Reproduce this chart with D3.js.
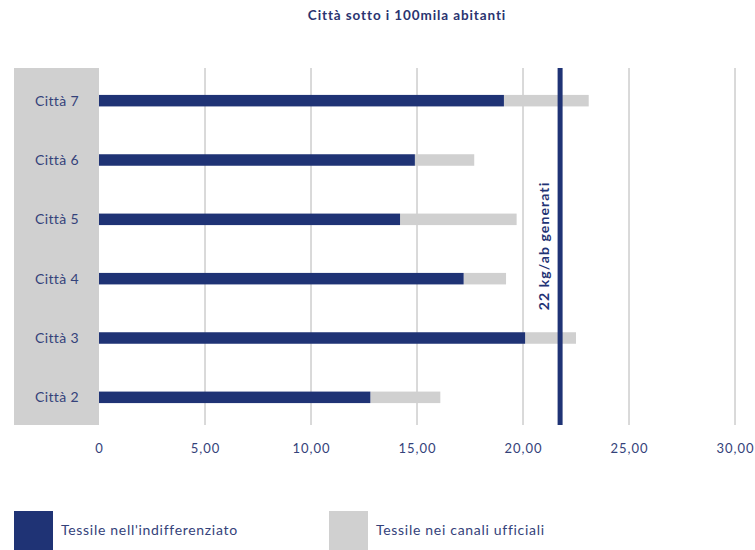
<!DOCTYPE html>
<html>
<head>
<meta charset="utf-8">
<script src="https://cdn.jsdelivr.net/npm/d3@7"></script>
<style>
  body { margin: 0; background: #fff; }
  svg text { font-family: Lato, "Open Sans", sans-serif; }
</style>
</head>
<body>
<div id="chart"></div>
<script>
// dati (kg/ab)
const cities = ["Città 7", "Città 6", "Città 5", "Città 4", "Città 3", "Città 2"];
const indifferenziato = [19.1, 14.9, 14.2, 17.2, 20.1, 12.8];
const canaliUfficiali = [4.0, 2.8, 5.5, 2.0, 2.4, 3.3];
const xTicks = [0, 5, 10, 15, 20, 25, 30];
const refValue = 21.75;
const refLabel = "22 kg/ab generati";
const legendLabels = ["Tessile nell'indifferenziato", "Tessile nei canali ufficiali"];

const navy = "#1f3375";
const textColor = "#34427a";
const lightGray = "#d0d0d0";

const width = 755, height = 550;
const plotTop = 68, plotBottom = 425;

const svg = d3.select("#chart").append("svg")
  .attr("width", width)
  .attr("height", height);

const x = d3.scaleLinear().domain([0, 30]).range([99, 735]);
const y = d3.scaleBand().domain(cities).range([71, 427]);
const barH = 11.5;

// titolo
svg.append("text")
  .attr("x", 407).attr("y", 20)
  .attr("text-anchor", "middle")
  .attr("font-size", 13.5).attr("font-weight", "bold")
  .attr("letter-spacing", 0.9)
  .attr("fill", "#2a3470")
  .text("Città sotto i 100mila abitanti");

// fascia grigia delle categorie
svg.append("rect")
  .attr("x", 14).attr("y", plotTop)
  .attr("width", x(0) - 14).attr("height", plotBottom - plotTop)
  .attr("fill", lightGray);

// griglia verticale
svg.selectAll("line.grid")
  .data(xTicks.filter(d => d > 0))
  .enter().append("line")
  .attr("class", "grid")
  .attr("x1", d => x(d)).attr("x2", d => x(d))
  .attr("y1", plotTop).attr("y2", plotBottom)
  .attr("stroke", "#b4b4b4").attr("stroke-width", 1);

// etichette categorie
svg.selectAll("text.cat")
  .data(cities)
  .enter().append("text")
  .attr("class", "cat")
  .attr("x", 57)
  .attr("y", d => y(d) + y.bandwidth() / 2)
  .attr("dy", "0.35em")
  .attr("text-anchor", "middle")
  .attr("font-size", 14)
  .attr("letter-spacing", 0.4)
  .attr("fill", textColor)
  .text(d => d);

// barre grigie (canali ufficiali), impilate dopo l'indifferenziato
svg.selectAll("rect.gray")
  .data(cities)
  .enter().append("rect")
  .attr("class", "gray")
  .attr("x", (d, i) => x(indifferenziato[i]))
  .attr("y", d => y(d) + y.bandwidth() / 2 - barH / 2)
  .attr("width", (d, i) => x(indifferenziato[i] + canaliUfficiali[i]) - x(indifferenziato[i]))
  .attr("height", barH)
  .attr("fill", lightGray);

// barre blu (indifferenziato)
svg.selectAll("rect.dark")
  .data(cities)
  .enter().append("rect")
  .attr("class", "dark")
  .attr("x", x(0))
  .attr("y", d => y(d) + y.bandwidth() / 2 - barH / 2)
  .attr("width", (d, i) => x(indifferenziato[i]) - x(0))
  .attr("height", barH)
  .attr("fill", navy);

// linea di riferimento
svg.append("line")
  .attr("x1", x(refValue)).attr("x2", x(refValue))
  .attr("y1", plotTop).attr("y2", plotBottom)
  .attr("stroke", navy).attr("stroke-width", 5);

svg.append("text")
  .attr("transform", `translate(${x(refValue) - 11}, 246) rotate(-90)`)
  .attr("text-anchor", "middle")
  .attr("font-size", 14).attr("font-weight", "bold")
  .attr("letter-spacing", 1.1)
  .attr("fill", navy)
  .text(refLabel);

// asse x
const fmt = d => d === 0 ? "0" : d3.format(".2f")(d).replace(".", ",");
const xAxis = svg.append("g")
  .attr("transform", `translate(0, ${plotBottom})`)
  .call(d3.axisBottom(x).tickValues(xTicks).tickFormat(fmt).tickSize(0).tickPadding(19));
xAxis.select(".domain").remove();
xAxis.selectAll("text")
  .attr("font-size", 13)
  .attr("letter-spacing", 1)
  .attr("font-family", "Lato, 'Open Sans', sans-serif")
  .attr("fill", textColor);

// legenda
const legend = svg.append("g");
const legendColors = [navy, lightGray];
const legendX = [14, 329];
legendLabels.forEach((lab, i) => {
  legend.append("rect")
    .attr("x", legendX[i]).attr("y", 511)
    .attr("width", 39).attr("height", 40)
    .attr("fill", legendColors[i]);
  legend.append("text")
    .attr("x", legendX[i] + 47).attr("y", 535)
    .attr("font-size", 14)
    .attr("letter-spacing", 0.7)
    .attr("fill", textColor)
    .text(lab);
});
</script>
</body>
</html>
